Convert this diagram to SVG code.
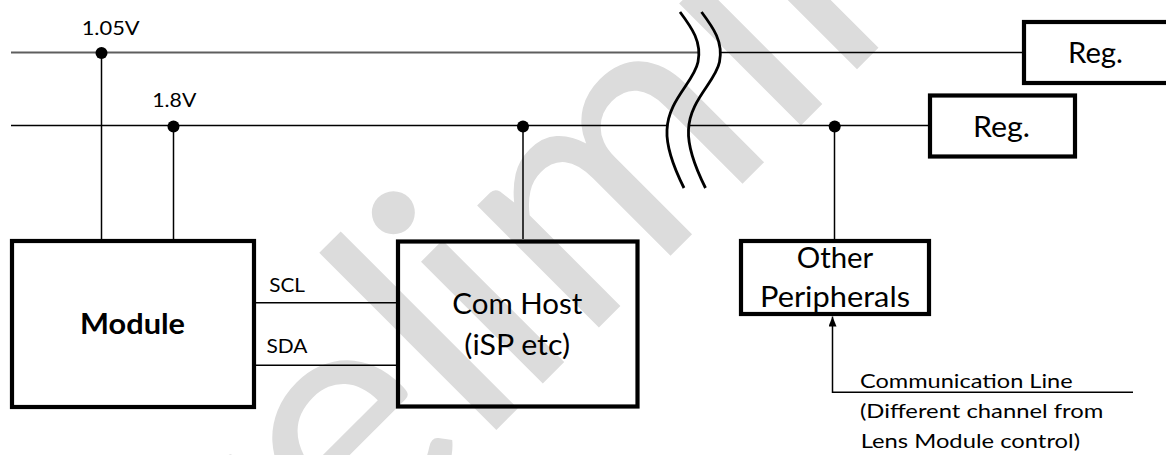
<svg xmlns="http://www.w3.org/2000/svg" width="1166" height="455" viewBox="0 0 1166 455">
  <defs>
    <style>
      .box { fill: none; stroke: #000; stroke-width: 4.2; }
      .wire { fill: none; stroke: #000; stroke-width: 1.5; }
      .rail-gray { fill: none; stroke: #5e5e5e; stroke-width: 2; }
      .dot { fill: #000; }
      .brk { fill: none; stroke: #000; stroke-width: 2.8; }
      .lbl { font-family: Lato, "Liberation Sans", sans-serif; fill: #000; }
      .small { font-size: 19px; }
      .big { font-size: 28px; }
      .bold { font-weight: bold; }
      .wm { font-family: Lato, "Liberation Sans", sans-serif; font-weight: 400; font-size: 340px; fill: #dcdcdc; }
    </style>
    <marker id="arrow" markerUnits="userSpaceOnUse" markerWidth="10" markerHeight="9" refX="10" refY="4" orient="auto">
      <path d="M0,0 L10,4 L0,8 z" fill="#000"/>
    </marker>
  </defs>

  <rect width="1166" height="455" fill="#fff"/>

  <!-- background watermark -->
  <text class="wm" transform="rotate(-45)" y="655" x="-463 -279 -155 22 87 168 452 533 719 889 1013">Preliminary</text>

  <!-- wiring -->
  <g id="connectors">
    <path class="rail-gray" d="M11,52.5 H699"/>
    <path class="wire" d="M720,52.5 H1022"/>
    <path class="wire" d="M11,125.5 H667.5"/>
    <path class="wire" d="M689,125.5 H928"/>
    <path class="wire" d="M101.5,53 V239"/>
    <path class="wire" d="M173.5,126 V239"/>
    <path class="wire" d="M523,126 V239"/>
    <path class="wire" d="M834.5,126 V239"/>
    <path class="wire" d="M256,302.7 H396"/>
    <path class="wire" d="M256,365.3 H396"/>
    <path class="wire" d="M1133,392.3 H832.5 V316.5" marker-end="url(#arrow)"/>
    <circle class="dot" cx="101.5" cy="53" r="6"/>
    <circle class="dot" cx="173.5" cy="126.5" r="6"/>
    <circle class="dot" cx="523" cy="126.5" r="6"/>
    <circle class="dot" cx="834.7" cy="126.5" r="6"/>
  </g>

  <!-- break mark on the rails -->
  <g id="rail-break">
    <path class="brk" d="M680,12 C692,28 702,42 698,62 C694,82 668,100 667,130 C666,150 676,172 684,188"/>
    <path class="brk" d="M701.5,12 C713.5,28 723.5,42 719.5,62 C715.5,82 689.5,100 688.5,130 C687.5,150 697.5,172 705.5,188"/>
  </g>

  <!-- rail voltage labels -->
  <g id="rail-labels">
    <text class="lbl small" x="81.7" y="35" textLength="58" lengthAdjust="spacingAndGlyphs">1.05V</text>
    <text class="lbl small" x="152.3" y="106.7" textLength="44" lengthAdjust="spacingAndGlyphs">1.8V</text>
  </g>

  <g id="bus-labels">
    <text class="lbl small" x="269.3" y="292" textLength="35.7" lengthAdjust="spacingAndGlyphs">SCL</text>
    <text class="lbl small" x="266.5" y="353" textLength="41" lengthAdjust="spacingAndGlyphs">SDA</text>
  </g>

  <g id="node-module">
    <rect class="box" x="12" y="241" width="242" height="166"/>
    <text class="lbl big bold" x="80" y="334.3" textLength="105" lengthAdjust="spacingAndGlyphs">Module</text>
  </g>

  <g id="node-com-host">
    <rect class="box" x="398" y="241.5" width="239.5" height="165"/>
    <text class="lbl big" x="452.3" y="314" textLength="130" lengthAdjust="spacingAndGlyphs">Com Host</text>
    <text class="lbl big" x="464.3" y="354.5" textLength="105.7" lengthAdjust="spacingAndGlyphs">(iSP etc)</text>
  </g>

  <g id="node-other-peripherals">
    <rect class="box" x="741" y="241" width="188" height="73"/>
    <text class="lbl big" x="796.7" y="268.3" textLength="76.6" lengthAdjust="spacingAndGlyphs">Other</text>
    <text class="lbl big" x="760" y="307.3" textLength="150" lengthAdjust="spacingAndGlyphs">Peripherals</text>
  </g>

  <g id="node-reg-105">
    <rect class="box" x="1024" y="22" width="146" height="61"/>
    <text class="lbl big" x="1068" y="63.3" textLength="55" lengthAdjust="spacingAndGlyphs">Reg.</text>
  </g>

  <g id="node-reg-18">
    <rect class="box" x="930" y="95.5" width="145" height="61"/>
    <text class="lbl big" x="973" y="136.7" textLength="57" lengthAdjust="spacingAndGlyphs">Reg.</text>
  </g>

  <g id="comm-line-note">
    <text class="lbl small" x="860" y="388" textLength="212.7" lengthAdjust="spacingAndGlyphs">Communication Line</text>
    <text class="lbl small" x="860" y="418.3" textLength="243.3" lengthAdjust="spacingAndGlyphs">(Different channel from</text>
    <text class="lbl small" x="860.7" y="448.3" textLength="219.3" lengthAdjust="spacingAndGlyphs">Lens Module control)</text>
  </g>
</svg>
